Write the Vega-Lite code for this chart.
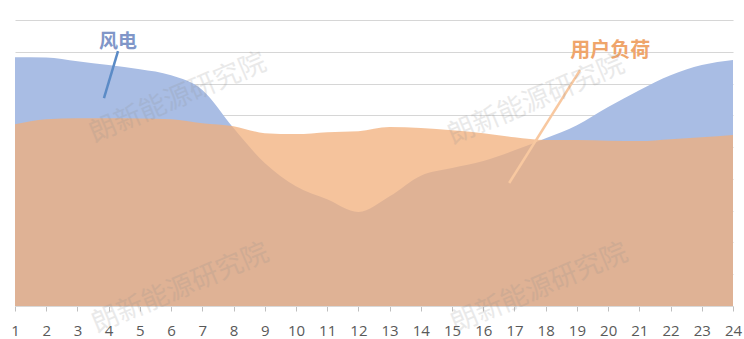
{
  "$schema": "https://vega.github.io/schema/vega-lite/v6.json",
  "width": 718,
  "height": 286,
  "autosize": {"type": "none"},
  "padding": {"left": 15, "top": 20, "right": 11, "bottom": 33},
  "background": "white",
  "config": {"view": {"stroke": null}},
  "datasets": {
    "series": [
      {"hour": 1, "wind": 78.3, "load": 57.2},
      {"hour": 2, "wind": 78.2, "load": 58.8},
      {"hour": 3, "wind": 77.0, "load": 59.1},
      {"hour": 4, "wind": 75.8, "load": 59.1},
      {"hour": 5, "wind": 74.5, "load": 59.0},
      {"hour": 6, "wind": 72.6, "load": 58.8},
      {"hour": 7, "wind": 68.0, "load": 57.5},
      {"hour": 8, "wind": 56.0, "load": 56.6},
      {"hour": 9, "wind": 45.0, "load": 54.4},
      {"hour": 10, "wind": 37.7, "load": 54.1},
      {"hour": 11, "wind": 33.6, "load": 54.7},
      {"hour": 12, "wind": 29.6, "load": 55.0},
      {"hour": 13, "wind": 34.5, "load": 56.3},
      {"hour": 14, "wind": 41.0, "load": 56.0},
      {"hour": 15, "wind": 43.4, "load": 55.3},
      {"hour": 16, "wind": 45.6, "load": 54.4},
      {"hour": 17, "wind": 49.0, "load": 53.1},
      {"hour": 18, "wind": 52.8, "load": 52.2},
      {"hour": 19, "wind": 56.9, "load": 52.2},
      {"hour": 20, "wind": 62.6, "load": 52.0},
      {"hour": 21, "wind": 67.9, "load": 51.9},
      {"hour": 22, "wind": 72.6, "load": 52.5},
      {"hour": 23, "wind": 75.8, "load": 53.1},
      {"hour": 24, "wind": 77.4, "load": 53.8}
    ],
    "labels": [
      {"label": "风电", "hour": 4.3, "value": 83.0, "kind": "wind"},
      {"label": "用户负荷", "hour": 20.07, "value": 80.2, "kind": "load"}
    ],
    "leaders": [
      {"kind": "wind", "hour": 4.3, "value": 80.2, "hour2": 3.85, "value2": 65.4},
      {"kind": "load", "hour": 19.1, "value": 74.2, "hour2": 16.83, "value2": 38.7}
    ],
    "marks": [
      {"text": "朗新能源研究院", "hour": 6.22, "value": 65.4},
      {"text": "朗新能源研究院", "hour": 17.7, "value": 64.8},
      {"text": "朗新能源研究院", "hour": 6.3, "value": 5.5},
      {"text": "朗新能源研究院", "hour": 17.8, "value": 5.5}
    ]
  },
  "encoding": {
    "x": {
      "field": "hour", "type": "quantitative",
      "scale": {"domain": [1, 24], "nice": false, "zero": false},
      "axis": {
        "values": [1,2,3,4,5,6,7,8,9,10,11,12,13,14,15,16,17,18,19,20,21,22,23,24],
        "title": null, "grid": false, "labelOverlap": false,
        "labelFont": "Open Sans", "labelFontSize": 15, "labelColor": "#595959",
        "labelPadding": 12, "labelFlush": false,
        "tickSize": 5, "tickColor": "#bfbfbf", "domainColor": "#d9d9d9"
      }
    }
  },
  "layer": [
    {
      "data": {"name": "series"},
      "mark": {"type": "area", "color": "white", "interpolate": "monotone"},
      "encoding": {
        "y": {
          "field": "load", "type": "quantitative",
          "scale": {"domain": [0, 90], "nice": false},
          "axis": {
            "values": [0,10,20,30,40,50,60,70,80,90],
            "tickCount": 10,
            "title": null, "labels": false, "ticks": false, "domain": false,
            "grid": true, "gridColor": "#d6d6d6", "gridWidth": 1.1
          }
        }
      }
    },
    {
      "data": {"name": "series"},
      "mark": {"type": "area", "color": "#a9bde4", "interpolate": "monotone"},
      "encoding": {
        "y": {"field": "wind", "type": "quantitative"}
      }
    },
    {
      "data": {"name": "series"},
      "mark": {"type": "area", "color": "#f2af7b", "opacity": 0.75, "interpolate": "monotone"},
      "encoding": {
        "y": {"field": "load", "type": "quantitative"}
      }
    },
    {
      "data": {"name": "leaders"},
      "transform": [{"filter": "datum.kind === 'wind'"}],
      "mark": {"type": "rule", "strokeWidth": 2.5, "color": "#5b8bc6"},
      "encoding": {
        "y": {"field": "value", "type": "quantitative"},
        "x2": {"field": "hour2"},
        "y2": {"field": "value2"}
      }
    },
    {
      "data": {"name": "leaders"},
      "transform": [{"filter": "datum.kind === 'load'"}],
      "mark": {"type": "rule", "strokeWidth": 2.5, "color": "#f8c8a0"},
      "encoding": {
        "y": {"field": "value", "type": "quantitative"},
        "x2": {"field": "hour2"},
        "y2": {"field": "value2"}
      }
    },
    {
      "data": {"name": "labels"},
      "transform": [{"filter": "datum.kind === 'wind'"}],
      "mark": {"type": "text", "font": "Noto Sans CJK SC", "fontWeight": "bold", "fontSize": 19, "baseline": "middle", "align": "center", "color": "#8096c8"},
      "encoding": {
        "y": {"field": "value", "type": "quantitative"},
        "text": {"field": "label"}
      }
    },
    {
      "data": {"name": "labels"},
      "transform": [{"filter": "datum.kind === 'load'"}],
      "mark": {"type": "text", "font": "Noto Sans CJK SC", "fontWeight": "bold", "fontSize": 20, "baseline": "middle", "align": "center", "color": "#efa56b"},
      "encoding": {
        "y": {"field": "value", "type": "quantitative"},
        "text": {"field": "label"}
      }
    },
    {
      "data": {"name": "marks"},
      "mark": {"type": "text", "font": "Noto Sans CJK SC", "fontSize": 27, "angle": -23, "color": "#8c8c8c", "opacity": 0.18, "baseline": "middle", "align": "center"},
      "encoding": {
        "y": {"field": "value", "type": "quantitative"},
        "text": {"field": "text"}
      }
    }
  ]
}
